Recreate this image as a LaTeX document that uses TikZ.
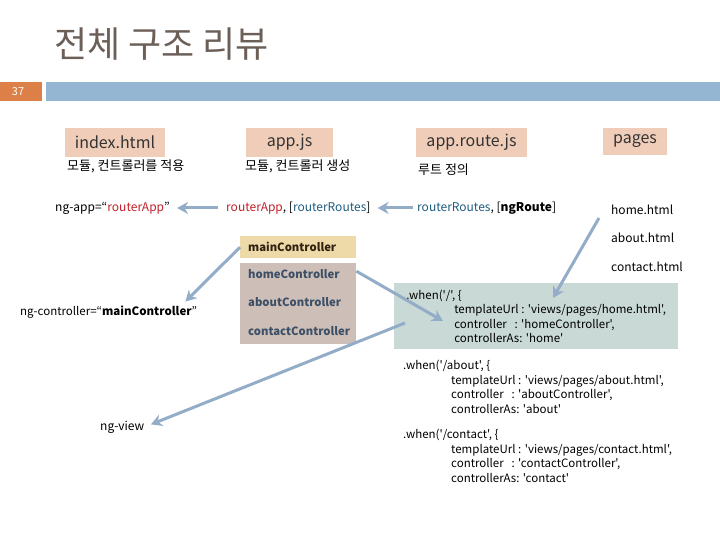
\documentclass[tikz,border=0pt]{standalone}
\usepackage{fontspec}
\setmainfont{Noto Sans CJK KR}[Ligatures=TeXOff]
\usetikzlibrary{arrows.meta, positioning}
\usepackage{xcolor}
\definecolor{titlegray}{HTML}{6B5F58}
\definecolor{slideorange}{HTML}{DD8047}
\definecolor{slideblue}{HTML}{94B6D2}
\definecolor{filepeach}{HTML}{F0CDB8}
\definecolor{maingold}{HTML}{EED9A8}
\definecolor{ctrlgray}{HTML}{CDBFB8}
\definecolor{routegreen}{HTML}{C9D9D5}
\definecolor{arrowblue}{HTML}{93ADC8}
\definecolor{appred}{HTML}{C0202A}
\definecolor{routeteal}{HTML}{1F5C80}
\definecolor{ctrltext}{HTML}{3D4F66}
\tikzset{
  filebox/.style={fill=filepeach, minimum height=29pt, inner sep=0pt, text=black!80, font=\fontsize{16}{18}\selectfont},
  note/.style={anchor=west, inner sep=0pt, font=\fontsize{13}{15}\selectfont},
  plain/.style={anchor=west, inner sep=0pt, font=\fontsize{12}{14}\selectfont},
  ctrl/.style={anchor=north west, minimum width=116pt, minimum height=22pt, inner xsep=8pt, inner ysep=0pt, text width=100pt, align=left, font=\fontsize{11.3}{14}\selectfont\bfseries},
  route/.style={anchor=north west, inner sep=0pt, align=left, font=\fontsize{11.5}{14.5}\selectfont},
  flow/.style={draw=arrowblue, line width=3pt, -{Stealth[length=11pt,width=12pt]}}
}
\newcommand{\tab}{\hspace*{48pt}}

\begin{document}
\begin{tikzpicture}[x=1pt,y=-1pt]
        \useasboundingbox (0,0) rectangle (720,540);
        \node[anchor=west, inner sep=0pt, text=titlegray, font=\fontsize{36}{42}\selectfont] (title) at (54,44) {전체 구조 리뷰};
        \fill[slideorange] (0,82) rectangle (42,101);
        \fill[slideblue] (46,82) rectangle (720,101);
        \node[text=white, font=\fontsize{11}{12}\selectfont] (pagenum) at (18,91.5) {37};

        % files
        \node[filebox, minimum width=100pt] (index) at (115,142.5) {index.html};
        \node[filebox, minimum width=87pt] (appjs) at (289.5,142.5) {app.js};
        \node[filebox, minimum width=111pt] (routejs) at (471.5,142.5) {app.route.js};
        \node[filebox, minimum width=64pt, minimum height=27pt] (pages) at (635,141.5) {pages};
        \node[note] (indexnote) at (67,166) {모듈, 컨트롤러를 적용};
        \node[note] (appnote) at (245,166) {모듈, 컨트롤러 생성};
        \node[note] (routenote) at (418,170) {루트 정의};

        % modules
        \node[plain] (ngapp) at (55,208) {ng-app=“\textcolor{appred}{routerApp}”};
        \node[plain] (appdeps) at (226,208) {\textcolor{appred}{routerApp}, [\textcolor{routeteal}{routerRoutes}]};
        \node[plain] (routedeps) at (417,208) {\textcolor{routeteal}{routerRoutes}, [\textbf{ngRoute}]};
        \draw[flow, shorten >=7pt, shorten <=8pt] (appdeps.west) -- (ngapp.east);
        \draw[flow, shorten >=7pt, shorten <=4pt] (routedeps.west) -- (appdeps.east);

        % pages
        \node[plain] (homepage) at (611,210) {home.html};
        \node[plain] (aboutpage) at (611,238) {about.html};
        \node[plain] (contactpage) at (611,267) {contact.html};

        % controllers
        \node[ctrl, fill=maingold, text=black!75!brown] (mainctrl) at (240,236) {mainController};
        \fill[ctrlgray] (240,263) rectangle (356,344);
        \node[ctrl, text=ctrltext] (homectrl) at (240,263) {homeController};
        \node[ctrl, text=ctrltext] (aboutctrl) at (240,291) {aboutController};
        \node[ctrl, text=ctrltext] (contactctrl) at (240,320) {contactController};
        \node[plain, font=\fontsize{11.5}{14}\selectfont] (ngctrl) at (20,312) {ng-controller=“\textbf{mainController}”};
        \draw[flow] (mainctrl.west) -- ([xshift=-12pt,yshift=4pt]ngctrl.north east);

        % routes
        \node[route, fill=routegreen, minimum width=284pt, minimum height=66pt, inner xsep=11pt, inner ysep=5pt] (homeroute) at (394,283)
            {.when('/', \{\\ \tab templateUrl : 'views/pages/home.html',\\ \tab controller \ \ : 'homeController',\\ \tab controllerAs: 'home'};
        \node[route] (aboutroute) at (403,360)
            {.when('/about', \{\\ \tab templateUrl : 'views/pages/about.html',\\ \tab controller \ \ : 'aboutController',\\ \tab controllerAs: 'about'};
        \node[route] (contactroute) at (403,429)
            {.when('/contact', \{\\ \tab templateUrl : 'views/pages/contact.html',\\ \tab controller \ \ : 'contactController',\\ \tab controllerAs: 'contact'};
        \node[plain] (ngview) at (100,427) {ng-view};

        \coordinate (tplhit) at (553,298);
        \coordinate (ctrlhit) at (443,321);
        \coordinate (viewfrom) at (405,323);
        \draw[flow] ([shift={(-12,8)}]homepage.west) -- (tplhit);
        \draw[flow] ([yshift=3pt]homectrl.east) -- (ctrlhit);
        \draw[flow, shorten >=7pt] (viewfrom) -- (ngview.east);
    \end{tikzpicture}
\end{document}
